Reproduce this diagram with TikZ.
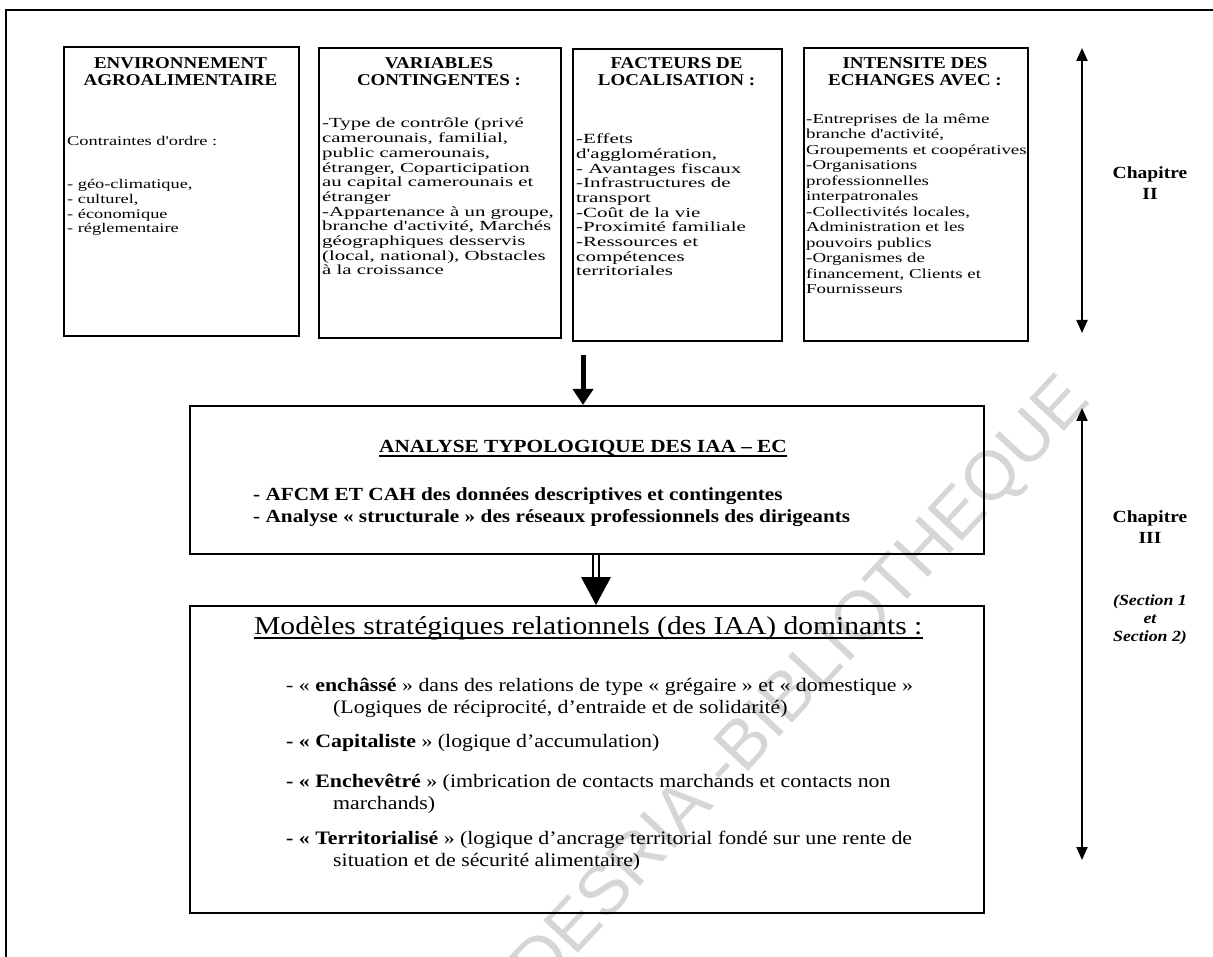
\documentclass[tikz,border=0pt]{standalone}
\usepackage{fontspec}
\setmainfont{Liberation Serif}[FakeStretch=1.15]
\newfontfamily\widefont{Liberation Serif}[FakeStretch=1.38]
\newfontfamily\widerfont{Liberation Serif}[FakeStretch=1.5]
\newfontfamily\wmfont{Liberation Sans}
\usetikzlibrary{arrows.meta,calc}
\tikzset{
  box/.style={draw, line width=1.6pt, inner sep=0pt, anchor=north west},
  hd/.style={inner sep=0pt, anchor=base, align=center, font=\bfseries\fontsize{16.5}{17}\selectfont},
  bd/.style={inner sep=0pt, anchor=base west, align=left, font=\widefont\fontsize{14}{14.7}\selectfont},
  mline/.style={inner sep=0pt, anchor=base west, align=left, font=\bfseries\fontsize{18.5}{22}\selectfont},
  bline/.style={inner sep=0pt, anchor=base west, align=left, font=\fontsize{19}{22}\selectfont},
  chap/.style={inner sep=0pt, align=center, font=\bfseries\fontsize{17}{21}\selectfont},
  sect/.style={inner sep=0pt, align=center, font=\bfseries\itshape\fontsize{15.5}{18}\selectfont},
  side/.style={line width=2.2pt, {Triangle[width=11pt,length=13pt]}-{Triangle[width=11pt,length=13pt]}},
  uline/.style={line width=1.3pt}
}
\begin{document}
\begin{tikzpicture}[x=1pt,y=-1pt]
\useasboundingbox (0,0) rectangle (1213,957);
% watermark
\node[rotate=47, anchor=base east, inner sep=0pt, font=\wmfont\fontsize{69}{69}\selectfont, text=black!16] (wm) at (1092,402) {CODESRIA -BIBLIOTHEQUE};
% outer frame
\draw[line width=1.8pt] (1213,10) -- (6,10) -- (6,957);
% top boxes
\node[box, minimum width=235pt, minimum height=289pt] (b1) at (63,46) {};
\node[box, minimum width=242pt, minimum height=290pt] (b2) at (318,47) {};
\node[box, minimum width=209pt, minimum height=292pt] (b3) at (572,48) {};
\node[box, minimum width=224pt, minimum height=293pt] (b4) at (803,47) {};
% box 1
\node[hd] (h1) at (180.5,86) {ENVIRONNEMENT\\AGROALIMENTAIRE};
\node[bd, font=\widefont\fontsize{13.3}{14.7}\selectfont] (t1a) at (67,146) {Contraintes d'ordre :};
\node[bd, font=\widefont\fontsize{13.3}{14.7}\selectfont] (t1b) at (67,233) {- géo-climatique,\\- culturel,\\- économique\\- réglementaire};
% box 2
\node[hd] (h2) at (439,86) {VARIABLES\\CONTINGENTES :};
\node[bd, font=\widerfont\fontsize{13.9}{14.7}\selectfont] (t2) at (322,275) {-Type de contrôle (privé\\camerounais, familial,\\public camerounais,\\étranger, Coparticipation\\au capital camerounais et\\étranger\\-Appartenance à un groupe,\\branche d'activité, Marchés\\géographiques desservis\\(local, national), Obstacles\\à la croissance};
% box 3
\node[hd] (h3) at (676.5,86) {FACTEURS DE\\LOCALISATION :};
\node[bd, font=\widerfont\fontsize{14}{14.7}\selectfont] (t3) at (576,276) {-Effets\\d'agglomération,\\- Avantages fiscaux\\-Infrastructures de\\transport\\-Coût de la vie\\-Proximité familiale\\-Ressources et\\compétences\\territoriales};
% box 4
\node[hd] (h4) at (915,86) {INTENSITE DES\\ECHANGES AVEC :};
\node[bd, font=\widefont\fontsize{13.7}{15.5}\selectfont] (t4) at (806,294) {-Entreprises de la même\\branche d'activité,\\Groupements et coopératives\\-Organisations\\professionnelles\\interpatronales\\-Collectivités locales,\\Administration et les\\pouvoirs publics\\-Organismes de\\financement, Clients et\\Fournisseurs};
% side arrow chapter II
\coordinate (s2t) at (1082,48);
\coordinate (s2b) at (1082,333);
\draw[side] (s2t) -- (s2b);
\node[chap] (c2) at (1150,183) {Chapitre\\II};
% middle box
\node[box, minimum width=794pt, minimum height=148pt] (mid) at (189,405) {};
\coordinate (a1s) at (583,355);
\draw[line width=5pt, -{Triangle[width=20pt,length=16pt]}] (a1s) -- (a1s |- mid.north);
\node[mline, anchor=base] (mt) at (583,453) {ANALYSE TYPOLOGIQUE DES IAA – EC};
\draw[uline] ($(mt.base west)+(0,3)$) -- ($(mt.base east)+(0,3)$);
\node[mline] (m1) at (253,500) {- AFCM ET CAH des données descriptives et contingentes};
\node[mline] (m2) at (253,522) {- Analyse « structurale » des réseaux professionnels des dirigeants};
% bottom box
\node[box, minimum width=794pt, minimum height=307pt] (bot) at (189,605) {};
\coordinate (a2x) at (596,0);
\draw[double, double distance=4pt, line width=1.8pt] (a2x |- mid.south) -- ($(a2x |- bot.north)+(0,-25)$);
\fill ($(a2x |- bot.north)+(-15,-28)$) -- (a2x |- bot.north) -- ($(a2x |- bot.north)+(15,-28)$) -- cycle;
\node[inner sep=0pt, anchor=base west, font=\fontsize{25.7}{28}\selectfont] (bt) at (254,634) {Modèles stratégiques relationnels (des IAA) dominants :};
\draw[uline] ($(bt.base west)+(0,4)$) -- ($(bt.base east)+(0,4)$);
\node[bline] (l1) at (286,713) {- « \textbf{enchâssé} » dans des relations de type « grégaire » et « domestique »\\\hspace*{47pt}(Logiques de réciprocité, d’entraide et de solidarité)};
\node[bline] (l2) at (286,747) {\textbf{- «} \textbf{Capitaliste} » (logique d’accumulation)};
\node[bline] (l3) at (286,809) {\textbf{- «} \textbf{Enchevêtré} » (imbrication de contacts marchands et contacts non\\\hspace*{47pt}marchands)};
\node[bline] (l4) at (286,866) {\textbf{- «} \textbf{Territorialisé} » (logique d’ancrage territorial fondé sur une rente de\\\hspace*{47pt}situation et de sécurité alimentaire)};
% side arrow chapter III
\coordinate (s3t) at (1082,408);
\coordinate (s3b) at (1082,860);
\draw[side] (s3t) -- (s3b);
\node[chap] (c3) at (1150,527) {Chapitre\\III};
\node[sect] (s3) at (1150,620) {(Section 1\\et\\Section 2)};
\end{tikzpicture}
\end{document}
